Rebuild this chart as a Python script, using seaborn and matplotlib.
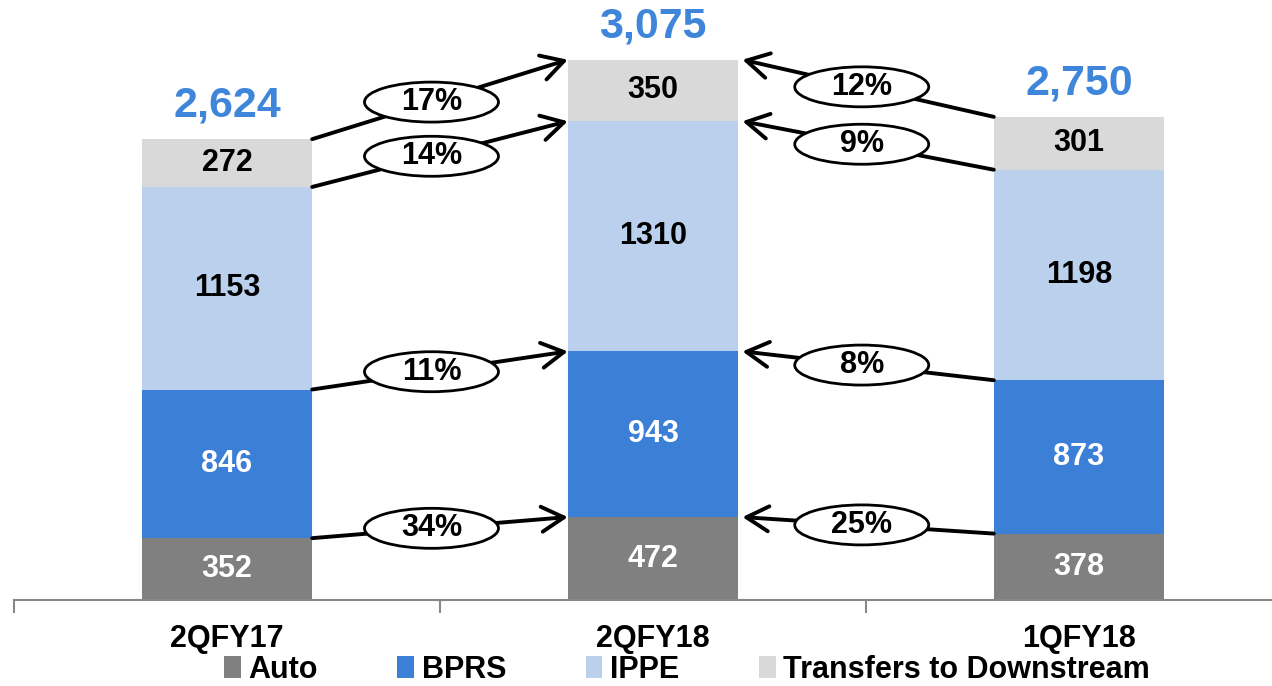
import numpy as np
import matplotlib
matplotlib.use("Agg")
import matplotlib.pyplot as plt
from matplotlib.patches import Ellipse, Patch
import seaborn as sns

quarters = ["2QFY17", "2QFY18", "1QFY18"]
segments = ["Auto", "BPRS", "IPPE", "Transfers to Downstream"]
auto = [352, 472, 378]
bprs = [846, 943, 873]
ippe = [1153, 1310, 1198]
transfers = [272, 350, 301]
totals = ["2,624", "3,075", "2,750"]

# growth from 2QFY17 -> 2QFY18 and 1QFY18 -> 2QFY18, per segment (bottom to top)
growth_yoy = ["34%", "11%", "14%", "17%"]
growth_qoq = ["25%", "8%", "9%", "12%"]

colors = ["#808080", "#3C7FD7", "#BAD0EC", "#D9D9D9"]
label_colors = ["white", "white", "black", "black"]
total_color = "#3F86DA"

sns.set_theme(style="white")
plt.rcParams["font.family"] = ["Liberation Sans", "DejaVu Sans"]
plt.rcParams["font.weight"] = "bold"
plt.rcParams["text.color"] = "black"

fig = plt.figure(figsize=(12.72, 6.86), dpi=100)
ax = fig.add_axes([14 / 1272, 86 / 686, 1258 / 1272, 600 / 686])

values = np.array([auto, bprs, ippe, transfers])
tops = values.cumsum(axis=0)
bottoms = tops - values

# stacked bars: draw cumulative heights from the top segment down
for i in range(len(segments) - 1, -1, -1):
    sns.barplot(x=quarters, y=tops[i], color=colors[i], width=0.4,
                saturation=1, ax=ax, edgecolor="none", linewidth=0)

ax.set_xlim(-0.5, -0.5 + 1258 / 426)
ax.set_ylim(0, 3415)

# segment labels
for i in range(len(segments)):
    for j in range(len(quarters)):
        ax.text(j, (bottoms[i, j] + tops[i, j]) / 2, str(values[i, j]),
                ha="center", va="center", fontsize=22, fontweight="bold",
                color=label_colors[i])

# totals above bars
for j, t in enumerate(totals):
    ax.text(j, tops[-1, j] + 75, t, ha="center", va="bottom", fontsize=31,
            fontweight="bold", color=total_color)

half = 0.2
ell_w = 134 / 426
ell_h = 40 / (600 / 3415)


def growth_arrow(x0, y0, x1, y1, xe, label):
    ax.annotate("", xy=(x1, y1), xytext=(x0, y0),
                arrowprops=dict(arrowstyle="->,head_length=0.8,head_width=0.45",
                                lw=2.8, color="black", shrinkA=0, shrinkB=0,
                                mutation_scale=20), zorder=4)
    ye = y0 + (y1 - y0) * (xe - x0) / (x1 - x0)
    ax.add_patch(Ellipse((xe, ye), ell_w, ell_h, facecolor="white",
                         edgecolor="black", lw=2, zorder=5))
    ax.text(xe, ye, label, ha="center", va="center", fontsize=22,
            fontweight="bold", color="black", zorder=6)


for i in range(len(segments)):
    growth_arrow(0 + half, tops[i, 0], 1 - half, tops[i, 1], 0.48, growth_yoy[i])
    growth_arrow(2 - half, tops[i, 2], 1 + half + 0.01, tops[i, 1], 1.49, growth_qoq[i])

# axes styling
for s in ["top", "right", "left"]:
    ax.spines[s].set_visible(False)
ax.spines["bottom"].set_color("#888888")
ax.spines["bottom"].set_linewidth(1.5)
ax.set_yticks([])
ax.set_xticks(range(len(quarters)))
ax.set_xticklabels(quarters, fontsize=22, fontweight="bold")
ax.tick_params(axis="x", which="major", length=0, pad=17, labelcolor="black")
ax.set_xticks([-0.5, 0.5, 1.5], minor=True)
ax.tick_params(axis="x", which="minor", bottom=True, length=9, width=1.5,
               color="#888888", direction="out")
ax.set_xlabel("")
ax.set_ylabel("")

handles = [Patch(facecolor=c, edgecolor="none", label=s) for c, s in zip(colors, segments)]
leg = fig.legend(handles=handles, loc="lower center", bbox_to_anchor=(0.54, -0.038),
                 ncol=4, frameon=False, handlelength=0.55, handleheight=0.75,
                 handletextpad=0.25, columnspacing=2.6,
                 prop={"weight": "bold", "size": 22})
for t in leg.get_texts():
    t.set_color("black")

fig.savefig("out.png", dpi=100, facecolor="white")
